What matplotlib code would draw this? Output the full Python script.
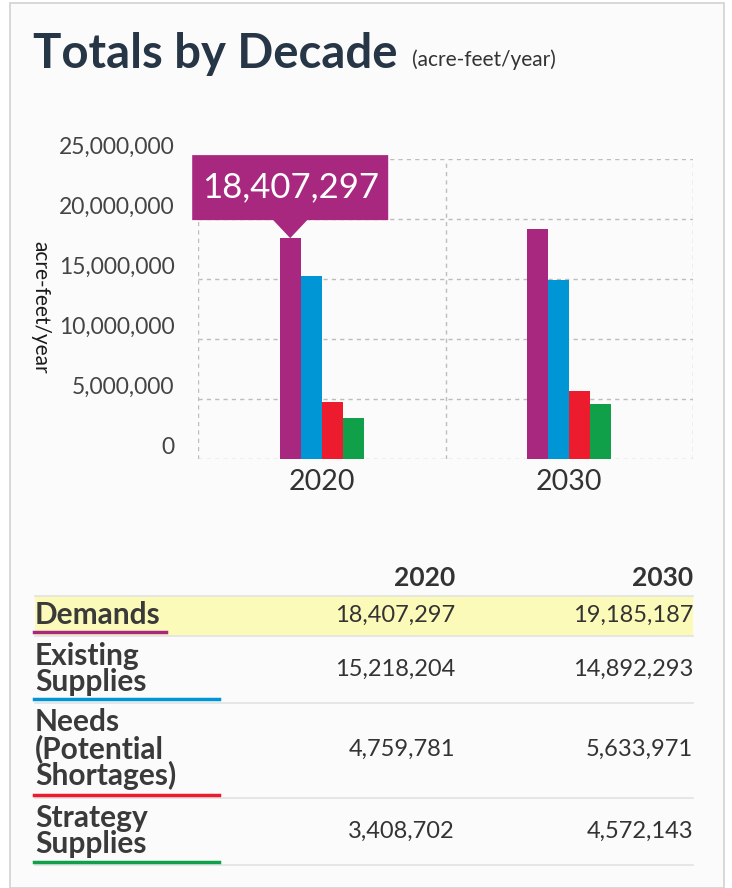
import numpy as np
import matplotlib.pyplot as plt
from matplotlib.patches import Rectangle, Polygon
from matplotlib.transforms import ScaledTranslation

decades = ['2020', '2030']
series = ['Demands', 'Existing\nSupplies', 'Needs\n(Potential\nShortages)', 'Strategy\nSupplies']
demands = [18407297, 19185187]
existing = [15218204, 14892293]
needs = [4759781, 5633971]
strategy = [3408702, 4572143]
colors = ['#a8287f', '#0096d6', '#ec1c2e', '#10a04a']
yticks = [0, 5000000, 10000000, 15000000, 20000000, 25000000]

plt.rcParams['font.family'] = ['Lato', 'DejaVu Sans']

W, H = 732, 888
fig = plt.figure(figsize=(W / 100, H / 100), dpi=100)
fig.patch.set_facecolor('white')


def fx(x):
    return x / W


def fy(y):
    return 1 - y / H


# card background + border
fig.patches.append(Rectangle((fx(10), 0), fx(724) - fx(10), fy(3), transform=fig.transFigure,
                             facecolor='#fbfbfb', edgecolor='#d2d2d2', lw=1.2, zorder=-5))

fig.text(fx(33), fy(68), 'Totals by Decade', fontsize=34, fontweight='bold', color='#263646')
fig.text(fx(412), fy(66), '(acre-feet/year)', fontsize=15, color='#333333')

# chart
ax = fig.add_axes([fx(198), fy(459), fx(693) - fx(198), (459 - 159) / H])
ax.set_facecolor('none')
x = np.arange(len(decades))
w = 0.085
values = [demands, existing, needs, strategy]
for i, (vals, c) in enumerate(zip(values, colors)):
    ax.bar(x + (i - 1.5) * w, vals, width=w, color=c, zorder=3)

ax.set_xlim(-0.5, 1.5)
ax.set_ylim(0, 25000000)
for s in ax.spines.values():
    s.set_visible(False)
for yv in yticks:
    ax.axhline(yv, color='#bdbdbd', lw=1, ls=(0, (3, 3)), zorder=1)
for xv in [-0.5, 0.5, 1.5]:
    ax.axvline(xv, color='#bdbdbd', lw=1, ls=(0, (3, 3)), zorder=1)

ax.set_yticks(yticks)
ax.set_yticklabels([f'{v:,}' for v in yticks], fontsize=16.5, color='#444444')
ax.tick_params(axis='y', length=0, pad=17)
for lab in ax.get_yticklabels():
    lab.set_transform(lab.get_transform() + ScaledTranslation(0, 0.14, fig.dpi_scale_trans))
ax.set_xticks(x)
ax.set_xticklabels(decades, fontsize=20.5, color='#333333')
ax.tick_params(axis='x', length=0, pad=7)

fig.text(fx(40), fy(307), 'acre-feet/year', fontsize=15, color='#1a1a1a', rotation=270,
         ha='center', va='center')

# tooltip on the 2020 demands bar
anchor = ScaledTranslation(x[0] - 1.5 * w, demands[0], ax.transData)
tr = fig.dpi_scale_trans + anchor
pts = np.array([(0, 0), (-17, 18), (-98, 18), (-98, 83), (98, 83), (98, 18), (17, 18)]) / 100
ax.add_patch(Polygon(pts, closed=True, transform=tr, facecolor=colors[0], edgecolor='none',
                     clip_on=False, zorder=5))
ax.text(0, 0.505, f'{demands[0]:,}', transform=tr, ha='center', va='center', color='white',
        fontsize=25, zorder=6, clip_on=False)

# table
fig.patches.append(Rectangle((fx(35), fy(636)), fx(693) - fx(35), (636 - 596) / H,
                             transform=fig.transFigure, facecolor='#fcfab8', edgecolor='none', zorder=1))
for yl in [596, 636, 703, 798, 865]:
    fig.add_artist(plt.Line2D([fx(35), fx(693)], [fy(yl), fy(yl)], transform=fig.transFigure,
                              color='#e2e2e2', lw=1.2, zorder=2))

fig.text(fx(455), fy(578), decades[0], ha='right', va='center', fontsize=19, fontweight='bold', color='#333333')
fig.text(fx(693), fy(578), decades[1], ha='right', va='center', fontsize=19, fontweight='bold', color='#333333')

label_y = [615, 669, 749, 831]
underline_y = [632, 699, 795, 862]
underline_end = [166, 219, 219, 219]
for i, name in enumerate(series):
    fig.text(fx(35), fy(label_y[i]), name, ha='left', va='center', fontsize=21.5, fontweight='bold',
             color='#3a3a3a', linespacing=0.93, zorder=3)
    fig.add_artist(plt.Line2D([fx(34), fx(underline_end[i])], [fy(underline_y[i])] * 2,
                              transform=fig.transFigure, color=colors[i], lw=2.5, zorder=3))
    fig.text(fx(455), fy(label_y[i]), f'{values[i][0]:,}', ha='right', va='center', fontsize=17,
             color='#333333', zorder=3)
    fig.text(fx(693), fy(label_y[i]), f'{values[i][1]:,}', ha='right', va='center', fontsize=17,
             color='#333333', zorder=3)

fig.savefig('out.png', dpi=100, facecolor=fig.get_facecolor())
